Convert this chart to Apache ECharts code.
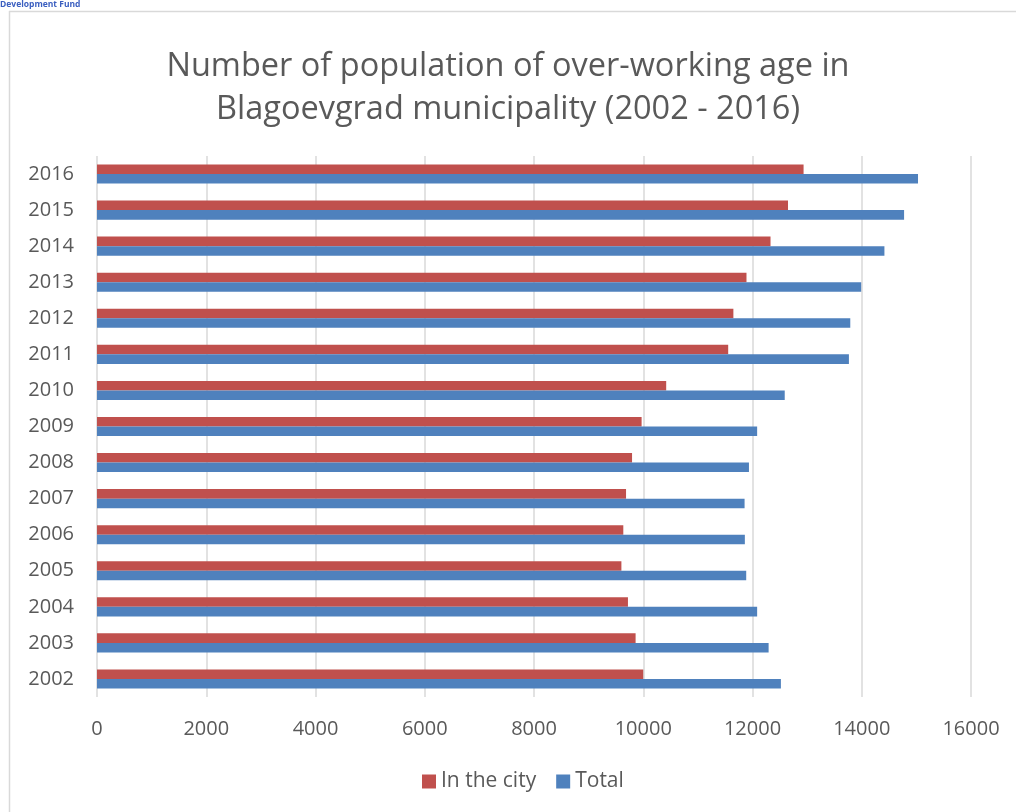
<!DOCTYPE html>
<html>
<head>
<meta charset="utf-8">
<script src="https://cdn.jsdelivr.net/npm/echarts@6/dist/echarts.min.js"></script>
<style>html,body{margin:0;padding:0;background:#fff}#c{width:1016px;height:812px}</style>
</head>
<body>
<div id="c"></div>
<script>
var years = ['2002','2003','2004','2005','2006','2007','2008','2009','2010','2011','2012','2013','2014','2015','2016'];
var inTheCity = [10000, 9860, 9720, 9600, 9635, 9685, 9795, 9970, 10420, 11555, 11650, 11890, 12330, 12650, 12935];
var total = [12520, 12295, 12085, 11885, 11860, 11855, 11935, 12085, 12590, 13765, 13790, 13990, 14415, 14775, 15030];
var xTicks = [0, 2000, 4000, 6000, 8000, 10000, 12000, 14000, 16000];

var chart = echarts.init(document.getElementById('c'));
var font = 'Open Sans';
chart.setOption({
  animation: false,
  backgroundColor: '#ffffff',
  title: {
    text: 'Number of population of over-working age in\nBlagoevgrad municipality (2002 - 2016)',
    left: 'center',
    top: 40,
    textStyle: { fontFamily: font, fontSize: 32.5, fontWeight: 'normal', color: '#595959', lineHeight: 43 }
  },
  graphic: [
    { type: 'line', shape: { x1: 9, y1: 11.5, x2: 1016, y2: 11.5 }, style: { stroke: '#d9d9d9', lineWidth: 1.5 } },
    { type: 'line', shape: { x1: 9.5, y1: 11, x2: 9.5, y2: 812 }, style: { stroke: '#d9d9d9', lineWidth: 1.5 } },
    { type: 'text', left: 0, top: 0, style: { text: 'Development Fund', fill: '#3b5fc0', font: 'bold 8.5px "Open Sans"' } }
  ],
  legend: {
    data: ['In the city', 'Total'],
    left: 422,
    top: 771,
    padding: 0,
    itemWidth: 14,
    itemHeight: 14,
    itemGap: 20,
    icon: 'rect',
    textStyle: { fontFamily: font, fontSize: 21, color: '#595959', padding: [0, 0, 0, 0] }
  },
  grid: { left: 97, right: 45, top: 156, bottom: 115, containLabel: false },
  xAxis: {
    type: 'value',
    min: 0,
    max: 16000,
    interval: 2000,
    axisLine: { show: false },
    axisTick: { show: false },
    splitLine: { show: true, lineStyle: { color: '#d9d9d9', width: 1.5 } },
    axisLabel: {
      fontFamily: font, fontSize: 20, color: '#595959', margin: 22,
      formatter: function (v) { return xTicks.indexOf(v) >= 0 ? String(v) : ''; }
    }
  },
  yAxis: {
    type: 'category',
    data: years,
    axisLine: { show: false },
    axisTick: { show: false },
    splitLine: { show: false },
    axisLabel: { fontFamily: font, fontSize: 20, color: '#595959', margin: 23 }
  },
  series: [
    {
      name: 'In the city', type: 'bar', data: inTheCity,
      itemStyle: { color: '#c0504d' },
      barGap: '0%', barCategoryGap: '47%'
    },
    {
      name: 'Total', type: 'bar', data: total,
      itemStyle: { color: '#4f81bd' },
      barGap: '0%', barCategoryGap: '47%'
    }
  ]
});
</script>
</body>
</html>
